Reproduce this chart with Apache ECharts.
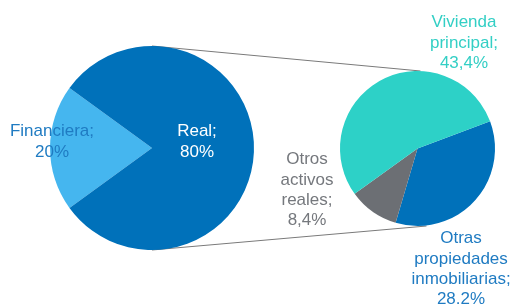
<!DOCTYPE html>
<html><head><meta charset="utf-8">
<script src="https://cdn.jsdelivr.net/npm/echarts@6/dist/echarts.min.js"></script>
<style>html,body{margin:0;padding:0;background:#fff}#c{width:519px;height:306px}</style>
</head><body><div id="c"></div>
<script>
// Data
var mainNames = ['Financiera', 'Real'];
var mainValues = [20, 80];
var mainLabels = ['Financiera;\n20%', 'Real;\n80%'];
var subNames = ['Otras propiedades inmobiliarias', 'Otros activos reales', 'Vivienda principal'];
var subValues = [28.2, 8.4, 43.4];
var subLabels = ['Otras\npropiedades\ninmobiliarias;\n28.2%', 'Otros\nactivos\nreales;\n8,4%', 'Vivienda\nprincipal;\n43,4%'];

// Layout (styles/positions only)
var mainColors = ['#45b6ef', '#0071ba'];
var mainLabelColors = ['#1f7bc2', '#ffffff'];
var subColors = ['#0071ba', '#6c6f74', '#2dd1c7'];
var subLabelColors = ['#1f7bc2', '#75787d', '#33cfc5'];
var mainC = [152, 148], mainR = 102;
var subC = [417.5, 148.5], subR = 77.5;
var mainLabelPos = [[52, 142], [197, 142]];
var subLabelPos = [[461, 269], [307, 190], [464, 43]];
var FONT = '"Liberation Sans", Arial, sans-serif';

var chart = echarts.init(document.getElementById('c'), null, {renderer: 'canvas'});
function mk(names, values, labels, colors, lcolors) {
  return names.map(function (n, i) {
    return {name: n, value: values[i],
      itemStyle: {color: colors[i]},
      label: {formatter: labels[i], color: lcolors[i]}};
  });
}
chart.setOption({
  animation: false,
  series: [
    {
      type: 'pie', center: mainC, radius: mainR, startAngle: 216, clockwise: true,
      silent: true,
      label: {show: true, position: 'inside', fontFamily: FONT, fontSize: 17, lineHeight: 21, align: 'center'},
      labelLine: {show: false},
      labelLayout: function (p) {
        var pos = mainLabelPos[p.dataIndex];
        return {x: pos[0], y: pos[1], align: 'center', verticalAlign: 'middle'};
      },
      itemStyle: {borderWidth: 0},
      data: mk(mainNames, mainValues, mainLabels, mainColors, mainLabelColors)
    },
    {
      type: 'pie', center: subC, radius: subR, startAngle: 20.5, clockwise: true,
      silent: true,
      label: {show: true, position: 'inside', fontFamily: FONT, fontSize: 17, lineHeight: 20.3, align: 'center'},
      labelLine: {show: false},
      labelLayout: function (p) {
        var pos = subLabelPos[p.dataIndex];
        return {x: pos[0], y: pos[1], align: 'center', verticalAlign: 'middle'};
      },
      itemStyle: {borderWidth: 0},
      data: mk(subNames, subValues, subLabels, subColors, subLabelColors)
    }
  ],
  graphic: [
    {type: 'line', silent: true, z: -1,
      shape: {x1: mainC[0], y1: mainC[1] - mainR, x2: subC[0] + 3, y2: subC[1] - subR},
      style: {stroke: '#7a7a7a', lineWidth: 1}},
    {type: 'line', silent: true, z: -1,
      shape: {x1: mainC[0], y1: mainC[1] + mainR, x2: subC[0] + 9, y2: subC[1] + subR},
      style: {stroke: '#7a7a7a', lineWidth: 1}}
  ]
});
</script></body></html>
